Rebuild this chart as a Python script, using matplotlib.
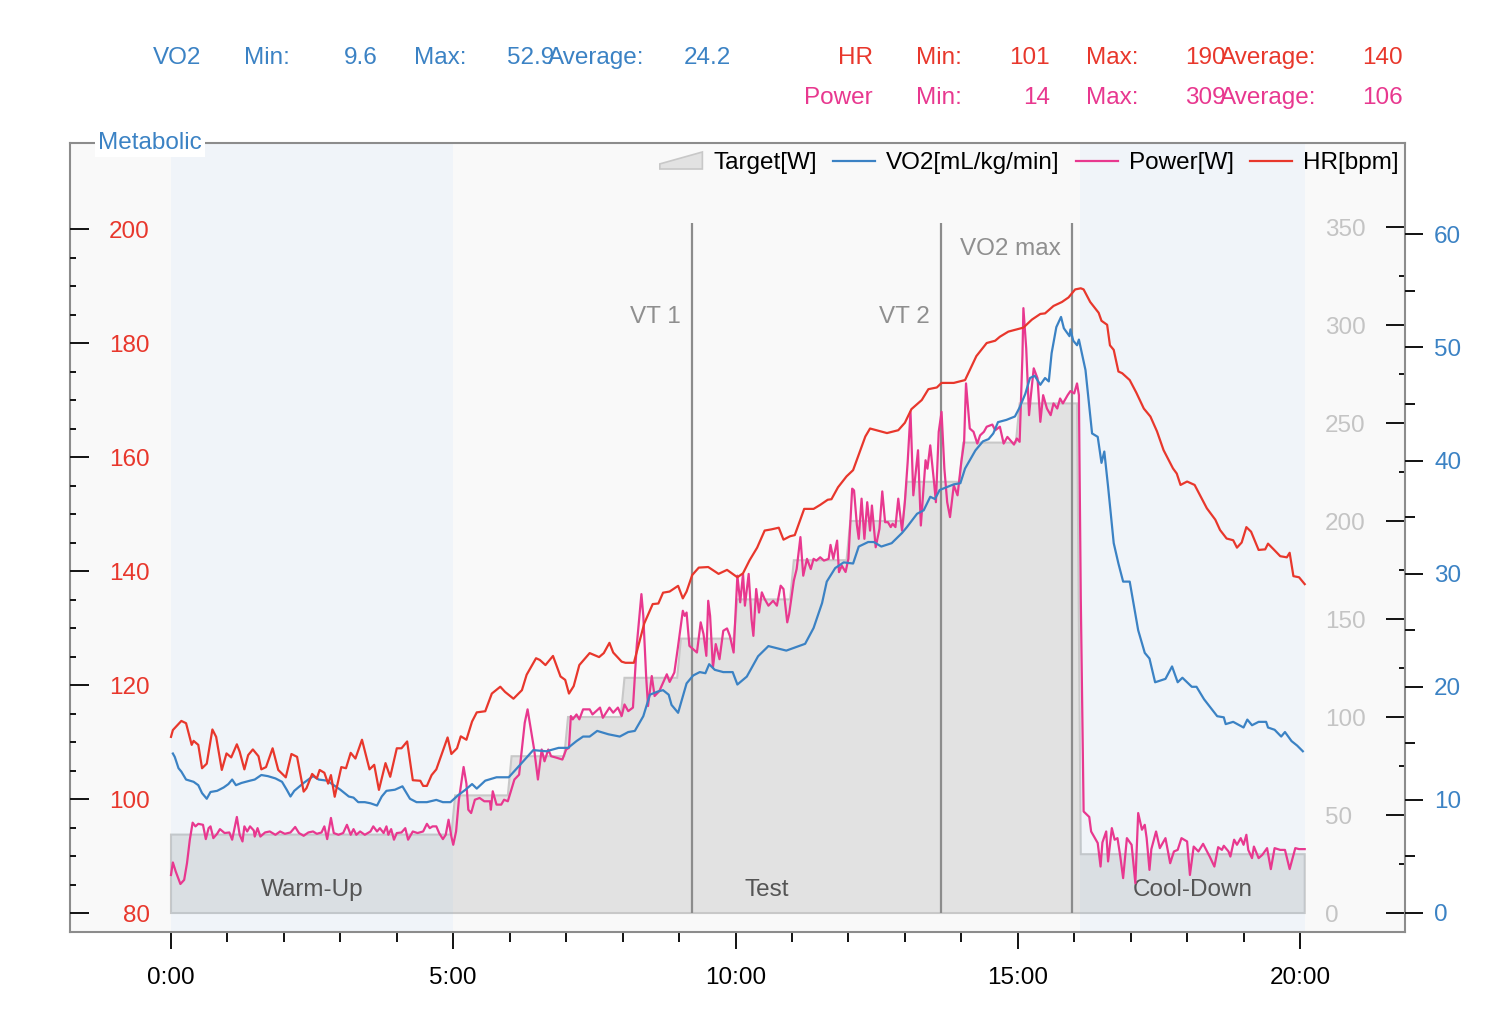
import matplotlib
matplotlib.use("Agg")
import matplotlib.pyplot as plt
from matplotlib.patches import Polygon, Patch
from matplotlib.lines import Line2D
from matplotlib.legend_handler import HandlerBase
from matplotlib.ticker import FixedLocator, FuncFormatter

plt.rcParams['font.family'] = ['Liberation Sans', 'DejaVu Sans']

# ---- data (time in seconds) ----
hr_t = [0, 2, 11, 16, 22, 24, 29, 33, 38, 44,
        48, 54, 59, 64, 70, 73, 78, 82, 87, 93,
        96, 101, 108, 114, 122, 128, 134, 141, 144, 150,
        155, 158, 163, 167, 170, 174, 181, 186, 191, 196,
        203, 211, 216, 221, 228, 233, 240, 245, 251, 257,
        265, 268, 272, 277, 282, 294, 298, 304, 308, 314,
        320, 325, 334, 341, 350, 355, 364, 373, 378, 388,
        392, 398, 406, 414, 419, 423, 428, 434, 445, 455,
        460, 466, 470, 479, 483, 492, 503, 512, 518, 523,
        530, 539, 544, 548, 554, 561, 571, 582, 591, 602,
        608, 615, 623, 631, 638, 646, 651, 658, 663, 673,
        683, 690, 698, 702, 709, 718, 725, 738, 743, 761,
        773, 780, 787, 798, 805, 814, 819, 832, 844, 856,
        867, 876, 881, 890, 906, 915, 924, 929, 938, 947,
        954, 961, 967, 970, 975, 977, 986, 989, 995, 998,
        1002, 1007, 1011, 1019, 1026, 1034, 1041, 1048, 1055, 1065,
        1069, 1073, 1080, 1088, 1101, 1110, 1115, 1122, 1129, 1133,
        1138, 1143, 1148, 1156, 1163, 1166, 1172, 1179, 1186, 1189,
        1193, 1199, 1205]
hr_bpm = [110.9, 112.1, 113.7, 113.3, 109.5, 110.2, 109.5, 105.4, 106.2, 112.2,
          110.9, 105.1, 108.0, 107.3, 109.6, 108.3, 105.2, 107.7, 108.7, 107.5,
          105.2, 105.6, 108.9, 105.1, 103.8, 107.9, 107.4, 101.3, 101.9, 104.4,
          103.6, 105.1, 104.6, 102.7, 104.2, 100.4, 105.6, 105.4, 108.1, 107.1,
          110.4, 105.2, 106.0, 101.6, 106.3, 103.9, 108.9, 108.9, 110.1, 103.3,
          103.2, 102.3, 102.3, 104.2, 105.2, 110.8, 107.9, 108.9, 111.0, 110.4,
          113.6, 115.2, 115.4, 118.5, 119.7, 118.8, 117.6, 119.1, 121.8, 124.7,
          124.4, 123.5, 125.1, 121.5, 120.9, 118.5, 119.8, 123.5, 125.6, 124.9,
          125.6, 127.4, 125.7, 124.1, 123.9, 123.9, 130.8, 134.2, 134.3, 136.2,
          136.4, 137.4, 135.2, 136.4, 139.3, 140.6, 140.7, 139.5, 140.2, 138.9,
          139.6, 141.9, 144.1, 147.1, 147.3, 147.6, 145.5, 146.1, 146.3, 150.9,
          150.9, 151.6, 152.5, 152.6, 154.7, 156.6, 157.7, 163.6, 165.0, 164.2,
          164.7, 166.0, 168.4, 170.0, 171.9, 172.2, 173.0, 173.0, 173.5, 177.7,
          180.0, 180.4, 181.1, 182.0, 182.7, 184.1, 185.1, 185.2, 186.5, 187.2,
          188.0, 189.4, 189.6, 189.4, 187.8, 187.2, 185.3, 183.9, 183.2, 179.6,
          178.8, 175.0, 174.7, 173.5, 171.3, 168.5, 167.1, 164.5, 161.2, 158.0,
          157.1, 155.1, 155.7, 155.1, 151.0, 149.0, 147.2, 145.7, 145.4, 144.1,
          145.0, 147.7, 146.9, 143.7, 143.8, 144.8, 143.8, 142.6, 142.4, 143.2,
          139.1, 138.9, 137.7]

vo2_t = [2, 4, 8, 11, 16, 24, 29, 33, 38, 42,
         49, 56, 61, 65, 69, 75, 84, 89, 96, 103,
         111, 118, 123, 127, 131, 141, 151, 157, 166, 173,
         180, 189, 194, 199, 206, 212, 219, 224, 229, 238,
         246, 254, 261, 272, 282, 289, 297, 305, 313, 320,
         325, 334, 346, 359, 371, 385, 399, 412, 422, 431,
         438, 445, 453, 465, 477, 486, 493, 502, 509, 518,
         523, 529, 532, 539, 548, 555, 562, 568, 572, 578,
         587, 597, 602, 612, 624, 635, 654, 674, 683, 692,
         697, 706, 715, 725, 731, 741, 747, 755, 766, 777,
         782, 793, 800, 807, 812, 817, 832, 839, 844, 855,
         863, 869, 874, 879, 888, 897, 902, 908, 913, 918,
         924, 929, 933, 936, 941, 946, 949, 955, 956, 959,
         963, 965, 972, 979, 985, 989, 992, 996, 1002, 1007,
         1012, 1019, 1028, 1035, 1040, 1046, 1057, 1064, 1070, 1075,
         1085, 1090, 1098, 1112, 1119, 1121, 1129, 1140, 1144, 1149,
         1156, 1164, 1166, 1173, 1180, 1184, 1191, 1197, 1203]
vo2_ml = [14.1, 13.8, 12.8, 12.5, 11.8, 11.6, 11.3, 10.6, 10.1, 10.7,
          10.8, 11.1, 11.4, 11.8, 11.3, 11.5, 11.7, 11.8, 12.2, 12.1,
          11.9, 11.6, 10.9, 10.3, 10.8, 11.5, 12.1, 11.8, 11.7, 11.3,
          10.9, 10.3, 10.2, 9.8, 9.8, 9.7, 9.5, 10.3, 10.8, 10.9,
          11.2, 10.1, 9.8, 9.8, 10.0, 9.8, 9.8, 10.4, 10.9, 11.4,
          11.0, 11.7, 12.0, 12.0, 13.1, 14.4, 14.3, 14.6, 14.6, 15.2,
          15.6, 15.6, 16.1, 15.8, 15.6, 16.0, 16.1, 17.4, 19.3, 19.6,
          19.7, 19.3, 18.4, 17.7, 20.3, 21.0, 21.3, 21.2, 22.0, 21.5,
          21.3, 21.3, 20.2, 20.9, 22.7, 23.6, 23.2, 23.8, 25.2, 27.4,
          29.3, 30.5, 31.0, 30.9, 32.4, 32.8, 32.8, 32.4, 32.7, 33.6,
          34.1, 35.3, 35.6, 36.8, 36.6, 37.4, 37.9, 38.0, 39.3, 40.9,
          41.7, 41.9, 42.4, 43.4, 43.6, 43.9, 44.7, 45.9, 47.3, 47.5,
          46.7, 47.3, 47.0, 49.5, 51.8, 52.7, 51.7, 51.0, 51.6, 50.6,
          50.2, 50.7, 48.0, 42.4, 42.1, 39.8, 40.8, 37.7, 32.7, 30.9,
          29.3, 29.3, 25.0, 23.0, 22.5, 20.4, 20.7, 21.8, 20.4, 20.8,
          20.0, 20.0, 18.9, 17.4, 17.3, 16.7, 16.9, 16.4, 17.1, 16.6,
          16.9, 16.9, 16.4, 16.2, 15.6, 16.0, 15.2, 14.8, 14.3]

power_t = [0, 2, 5, 10, 14, 17, 20, 23, 26, 29,
           34, 37, 40, 42, 45, 49, 52, 57, 62, 65,
           70, 73, 76, 78, 81, 84, 88, 89, 92, 95,
           100, 105, 111, 116, 121, 127, 132, 136, 141, 146,
           151, 155, 160, 163, 166, 170, 173, 178, 183, 187,
           191, 194, 197, 201, 206, 212, 215, 219, 222, 226,
           229, 231, 234, 237, 240, 245, 249, 252, 257, 262,
           268, 272, 275, 278, 282, 285, 289, 292, 295, 298,
           300, 303, 306, 311, 314, 316, 319, 323, 328, 333,
           339, 340, 342, 346, 351, 354, 358, 365, 370, 376,
           379, 383, 386, 390, 394, 397, 401, 404, 410, 416,
           420, 423, 425, 427, 431, 434, 438, 445, 448, 456,
           459, 466, 470, 475, 479, 482, 486, 491, 495, 500,
           502, 505, 507, 511, 514, 519, 527, 530, 535, 539,
           544, 546, 548, 551, 555, 559, 563, 566, 569, 571,
           573, 576, 579, 583, 587, 591, 594, 598, 602, 605,
           608, 610, 614, 617, 619, 622, 625, 628, 631, 635,
           640, 644, 648, 651, 655, 657, 662, 665, 669, 672,
           676, 680, 683, 686, 690, 694, 699, 701, 704, 708,
           710, 713, 717, 720, 724, 726, 729, 731, 734, 737,
           740, 743, 745, 749, 753, 756, 759, 762, 765, 767,
           770, 773, 777, 780, 783, 786, 789, 794, 797, 802,
           804, 807, 811, 813, 816, 819, 822, 825, 828, 832,
           836, 840, 843, 845, 849, 853, 857, 860, 864, 867,
           873, 876, 881, 885, 889, 893, 896, 899, 902, 905,
           906, 909, 912, 914, 917, 921, 924, 927, 931, 935,
           938, 942, 945, 948, 953, 956, 960, 963, 965, 967,
           970, 976, 978, 982, 985, 988, 990, 994, 996, 1000,
           1003, 1006, 1009, 1012, 1016, 1021, 1025, 1028, 1032, 1035,
           1037, 1040, 1042, 1047, 1051, 1057, 1062, 1066, 1070, 1074,
           1080, 1083, 1087, 1092, 1097, 1104, 1109, 1113, 1117, 1119,
           1124, 1126, 1130, 1133, 1137, 1140, 1143, 1145, 1149, 1151,
           1156, 1160, 1165, 1169, 1173, 1179, 1184, 1189, 1195, 1199, 1205]
power_w = [19.4, 25.8, 21.2, 14.8, 16.9, 25.4, 37.4, 46.1, 44.2, 45.5,
           45.0, 37.7, 43.3, 44.2, 38.2, 40.4, 42.8, 40.8, 41.1, 37.4,
           49.0, 39.9, 36.5, 44.2, 41.6, 44.2, 42.1, 39.0, 43.3, 39.0,
           41.1, 41.6, 39.9, 41.6, 40.4, 41.1, 43.9, 40.8, 39.4, 41.1,
           41.6, 40.4, 41.1, 44.2, 37.7, 48.5, 40.8, 39.9, 40.8, 45.0,
           39.9, 42.8, 39.9, 41.6, 39.9, 41.6, 44.2, 41.6, 43.3, 40.8,
           44.2, 39.9, 42.8, 37.4, 40.8, 41.1, 43.3, 37.4, 41.6, 40.8,
           41.6, 45.5, 43.3, 44.2, 44.2, 40.8, 37.7, 39.9, 47.6, 39.0,
           34.8, 41.6, 57.8, 74.5, 66.0, 52.7, 51.0, 57.8, 58.7, 57.0,
           57.0, 52.7, 62.1, 55.3, 55.3, 57.8, 57.0, 68.1, 70.6, 97.1,
           103.9, 92.0, 83.4, 68.1, 83.4, 77.4, 83.4, 80.0, 79.2, 78.3,
           83.4, 84.3, 100.5, 98.8, 101.3, 98.8, 103.9, 103.9, 101.3, 104.8,
           99.6, 104.8, 102.2, 104.8, 100.5, 106.4, 103.0, 104.8, 136.3, 162.7,
           151.6, 120.9, 105.6, 120.9, 110.7, 113.2, 121.8, 117.9, 122.7, 136.3,
           154.2, 151.6, 153.3, 136.3, 134.6, 132.9, 148.3, 142.3, 131.2, 159.3,
           151.6, 125.2, 137.2, 129.5, 144.0, 145.2, 141.4, 132.9, 172.1, 158.5,
           173.0, 156.8, 173.0, 150.0, 141.4, 165.3, 153.3, 163.6, 160.2, 156.8,
           159.3, 156.8, 167.0, 165.3, 148.3, 152.5, 169.6, 175.5, 191.8, 172.1,
           180.7, 175.5, 180.7, 179.8, 181.5, 179.8, 180.7, 187.8, 180.7, 190.0,
           173.9, 177.2, 174.0, 180.7, 216.5, 215.6, 198.0, 190.9, 211.4, 190.9,
           209.6, 195.1, 207.9, 186.6, 196.0, 215.1, 199.4, 199.4, 196.9, 198.6,
           196.9, 211.4, 195.1, 209.6, 230.1, 255.7, 213.1, 236.1, 197.7, 231.0,
           226.7, 238.6, 219.9, 209.6, 245.5, 255.7, 226.7, 209.6, 202.0, 218.2,
           213.1, 230.1, 240.4, 270.2, 247.2, 245.5, 239.5, 243.7, 245.5, 248.1,
           249.2, 246.3, 248.1, 239.5, 242.9, 240.7, 239.0, 242.1, 240.4, 284.7,
           308.6, 288.1, 254.0, 264.2, 277.9, 272.8, 250.6, 264.2, 257.4, 254.0,
           260.0, 257.4, 262.5, 260.0, 264.2, 266.3, 265.1, 270.2, 264.2, 160.2,
           51.8, 49.0, 41.6, 38.2, 35.7, 23.7, 36.0, 41.6, 26.3, 43.3,
           37.4, 38.2, 28.8, 17.8, 38.2, 34.8, 15.2, 51.0, 42.5, 45.0,
           38.2, 22.0, 32.6, 41.6, 33.1, 38.2, 25.4, 31.4, 32.2, 38.2,
           36.5, 19.4, 33.9, 31.4, 35.3, 28.8, 23.7, 33.6, 32.2, 34.3,
           31.4, 28.8, 37.4, 34.8, 38.2, 34.8, 39.9, 32.2, 28.0, 33.9,
           28.0, 29.7, 33.1, 22.4, 33.1, 32.2, 32.2, 22.4, 33.1, 32.6, 32.6]

# target power steps: edges and watts between them
target_edges = [0, 300, 360, 420, 480, 540, 600, 660, 720, 780, 840, 900, 965, 1205]
target_w = [40, 60, 80, 100, 120, 140, 160, 180, 200, 220, 240, 260, 30]

marker_t = [554, 818, 958]
marker_names = ['VT 1', 'VT 2', 'VO2 max']
marker_label_w = [304, 304, 339]

zone_start = [0, 300, 966]
zone_end = [300, 966, 1205]
zone_names = ['Warm-Up', 'Test', 'Cool-Down']
zone_shaded = [True, False, True]

stat_names = ['VO2', 'HR', 'Power']
stat_min = ['9.6', '101', '14']
stat_max = ['52.9', '190', '309']
stat_avg = ['24.2', '140', '106']

# ---- colours ----
c_hr = '#e8372c'
c_vo2 = '#3b82c4'
c_pw = '#e8388f'
c_grid = '#8c8c8c'
FS = 17.5

W, H = 1492, 1036
fig = plt.figure(figsize=(W / 100, H / 100), dpi=100)
L, R, T, B = 70, 1405, 143, 932
ax_p = fig.add_axes([L / W, 1 - B / H, (R - L) / W, (B - T) / H])
ax_p.set_facecolor('#f9f9f9')
ax_v = ax_p.twinx()
ax_h = ax_p.twinx()

ax_p.set_xlim(-107.35, 1311.6)
ax_p.set_ylim(-9.69, 392.86)
ax_v.set_ylim(-1.68, 68.08)
ax_h.set_ylim(76.67, 215.09)

# target fill
ramp = 2
tx, ty = [0, 0], [0, target_w[0]]
for i, edge in enumerate(target_edges[1:-1], start=1):
    tx += [edge - ramp, edge + ramp]
    ty += [target_w[i - 1], target_w[i]]
tx += [target_edges[-1], target_edges[-1]]
ty += [target_w[-1], 0]
ax_p.fill(tx, ty, facecolor='#e2e2e2', edgecolor='#c8c8c8', lw=1.5, zorder=1)

for s, e, name, shaded in zip(zone_start, zone_end, zone_names, zone_shaded):
    if shaded:
        ax_p.axvspan(s, e, color='#7cbaf9', alpha=0.07, lw=0, zorder=1.5)
    ax_p.text((s + e) / 2, 11.7, name, ha='center', va='center',
              fontsize=FS, color='#555555', zorder=2)

ax_p.vlines(marker_t, 0, 352, color=c_grid, lw=1.6, zorder=3)
for t, name, yw in zip(marker_t, marker_names, marker_label_w):
    ax_p.text(t - 12, yw, name, ha='right', va='center', fontsize=FS,
              color='#8f8f8f', zorder=3)

ax_p.plot(power_t, power_w, color=c_pw, lw=1.6, zorder=4)
ax_v.plot(vo2_t, vo2_ml, color=c_vo2, lw=1.6)
ax_h.plot(hr_t, hr_bpm, color=c_hr, lw=1.6)

# spines
for sp in ax_p.spines.values():
    sp.set_color(c_grid)
    sp.set_linewidth(1.5)
for a in (ax_v, ax_h):
    for sp in a.spines.values():
        sp.set_visible(False)

# x axis
ax_p.xaxis.set_major_locator(FixedLocator(range(0, 1201, 300)))
ax_p.xaxis.set_minor_locator(FixedLocator(range(0, 1201, 60)))
ax_p.xaxis.set_major_formatter(FuncFormatter(lambda v, p: f"{int(v) // 60}:{int(v) % 60:02d}"))
ax_p.tick_params(axis='x', which='major', direction='out', length=12.5, width=1.4,
                 color='#111111', labelsize=FS, pad=13)
ax_p.tick_params(axis='x', which='minor', direction='out', length=7.5, width=1.4, color='#111111')

# HR axis (left, labels inside)
ax_h.yaxis.tick_left()
ax_h.yaxis.set_major_locator(FixedLocator(range(80, 201, 20)))
ax_h.yaxis.set_minor_locator(FixedLocator(range(80, 201, 5)))
ax_h.tick_params(axis='y', which='major', direction='in', length=13.7, width=1.4,
                 color='#111111', labelcolor=c_hr, labelsize=FS, pad=-57.6)
ax_h.tick_params(axis='y', which='minor', direction='in', length=4.3, width=1.4, color='#111111')

# power axis (right, labels inside)
ax_p.yaxis.tick_right()
ax_p.yaxis.set_major_locator(FixedLocator(range(0, 351, 50)))
ax_p.yaxis.set_minor_locator(FixedLocator(range(25, 326, 50)))
ax_p.tick_params(axis='y', which='major', direction='in', length=13.7, width=1.4,
                 color='#111111', labelcolor='#c4c4c4', labelsize=FS, pad=-57.6)
ax_p.tick_params(axis='y', which='minor', direction='in', length=4.0, width=1.4, color='#111111')

# VO2 axis (right, outside)
ax_v.yaxis.tick_right()
ax_v.yaxis.set_major_locator(FixedLocator(range(0, 61, 10)))
ax_v.yaxis.set_minor_locator(FixedLocator(range(5, 56, 10)))
ax_v.tick_params(axis='y', which='major', direction='out', length=13, width=1.4,
                 color='#111111', labelcolor=c_vo2, labelsize=FS, pad=8)
ax_v.tick_params(axis='y', which='minor', direction='out', length=7.2, width=1.4, color='#111111')

ax_h.text((98 - L) / (R - L), 1.0, 'Metabolic', transform=ax_h.transAxes,
          ha='left', va='center', fontsize=FS, color=c_vo2, clip_on=False, zorder=10,
          bbox=dict(boxstyle='square,pad=0.12', fc='white', ec='none'))


# legend
class WedgeHandler(HandlerBase):
    def create_artists(self, legend, orig_handle, xdescent, ydescent,
                       width, height, fontsize, trans):
        x0, y0 = -xdescent, -ydescent
        pts = [(x0, y0), (x0 + width, y0), (x0 + width, y0 + height), (x0, y0 + 0.3 * height)]
        return [Polygon(pts, closed=True, facecolor='#e2e2e2', edgecolor='#c8c8c8',
                        lw=1.2, transform=trans)]


target_proxy = Patch(facecolor='#e2e2e2')
handles = [target_proxy,
           Line2D([], [], color=c_vo2, lw=1.6),
           Line2D([], [], color=c_pw, lw=1.6),
           Line2D([], [], color=c_hr, lw=1.6)]
labels = ['Target[W]', 'VO2[mL/kg/min]', 'Power[W]', 'HR[bpm]']
leg = ax_h.legend(handles, labels, loc='center right', ncol=4, frameon=False,
                  bbox_to_anchor=((1399 - L) / (R - L), (B - 163) / (B - T)),
                  fontsize=FS, handlelength=1.75, handletextpad=0.45,
                  columnspacing=0.65, borderpad=0, borderaxespad=0,
                  handler_map={target_proxy: WedgeHandler()})
leg.set_zorder(20)

# header stats
row_y = [58, 58, 98]
row_dx = [0, 672, 672]
stat_colors = [c_vo2, c_hr, c_pw]
for name, mn, mx, avg, y, dx, col in zip(stat_names, stat_min, stat_max, stat_avg,
                                           row_y, row_dx, stat_colors):
    fy = 1 - y / H
    items = [(201, name, 'right'), (244, 'Min:', 'left'), (378, mn, 'right'),
             (414, 'Max:', 'left'), (554, mx, 'right'), (548, 'Average:', 'left'),
             (731, avg, 'right')]
    for x, s, ha in items:
        fig.text((x + dx) / W, fy, s, ha=ha, va='center', fontsize=FS, color=col)

fig.savefig('out.png', dpi=100, facecolor='white')
